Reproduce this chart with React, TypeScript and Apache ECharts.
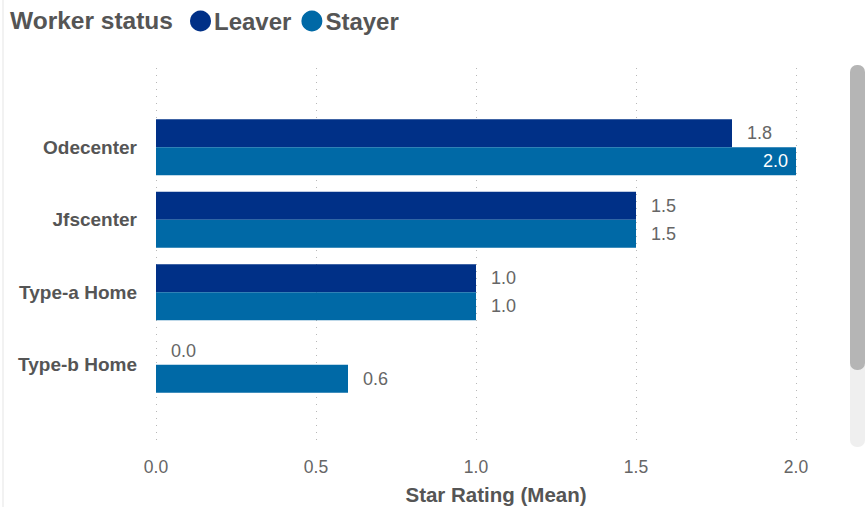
import React, { useEffect, useRef } from "react";
import * as echarts from "echarts";

const categories = ["Odecenter", "Jfscenter", "Type-a Home", "Type-b Home"];
const leaver = [1.8, 1.5, 1.0, 0.0];
const stayer = [2.0, 1.5, 1.0, 0.6];
const xTicks = [0, 0.5, 1.0, 1.5, 2.0];

const LEAVER = "#003087";
const STAYER = "#0069a6";
const FONT = "'Liberation Sans', Arial, sans-serif";

export default function App() {
  const ref = useRef<HTMLDivElement>(null);
  useEffect(() => {
    const chart = echarts.init(ref.current!, null, { renderer: "svg" });
    const xMax = xTicks[xTicks.length - 1];
    const labelBase = {
      show: true,
      position: "right" as const,
      distance: 15,
      color: "#666",
      fontSize: 18,
      fontFamily: FONT,
      formatter: (p: any) => Number(p.value).toFixed(1),
    };
    const stayerData = stayer.map((v) =>
      v >= xMax
        ? { value: v, label: { position: "insideRight" as const, color: "#fff", distance: 8 } }
        : v
    );
    chart.setOption({
      animation: false,
      textStyle: { fontFamily: FONT },
      legend: {
        left: 190,
        top: 9,
        itemWidth: 21,
        itemHeight: 21,
        itemGap: 10,
        padding: 0,
        icon: "circle",
        textStyle: { fontSize: 24, fontWeight: "bold", color: "#555", fontFamily: FONT, padding: [0, 0, 0, -2] },
        data: ["Leaver", "Stayer"],
      },
      graphic: [
        { type: "text", left: 10, top: 8, style: { text: "Worker status", fontSize: 24.5, fontWeight: "bold", fill: "#555", fontFamily: FONT } },
        { type: "rect", shape: { x: 2, y: 0, width: 2, height: 507 }, style: { fill: "#f2f2f2" } },
        { type: "rect", shape: { x: 850, y: 65, width: 15, height: 382, r: 7 }, style: { fill: "#efefef" } },
        { type: "rect", shape: { x: 850, y: 65, width: 15, height: 305, r: 7 }, style: { fill: "#b5b5b5" } },
        { type: "text", x: 496, y: 494, style: { text: "Star Rating (Mean)", fontSize: 20.5, fontWeight: "bold", fill: "#555", fontFamily: FONT, align: "center", verticalAlign: "middle" } },
      ],
      grid: [
        { left: 156, right: 69, top: 111, height: 290, containLabel: false },
        { left: 156, right: 69, top: 68, height: 372, containLabel: false },
      ],
      xAxis: [
        {
          gridIndex: 0, type: "value", min: 0, max: xMax, interval: 0.5,
          axisLabel: { show: false }, splitLine: { show: false }, axisLine: { show: false }, axisTick: { show: false },
        },
        {
          gridIndex: 1, type: "value", min: 0, max: xMax, interval: 0.5,
          axisLabel: { color: "#666", fontSize: 17.5, margin: 18, formatter: (v: number) => v.toFixed(1), fontFamily: FONT },
          splitLine: { show: true, lineStyle: { type: [1, 6], color: "#b8b8b8", width: 1 } },
          axisLine: { show: false }, axisTick: { show: false },
        },
      ],
      yAxis: [
        {
          gridIndex: 0, type: "category", data: categories, inverse: true,
          axisLine: { show: false }, axisTick: { show: false },
          axisLabel: { color: "#555", fontSize: 19, fontWeight: "bold", margin: 19, fontFamily: FONT },
        },
        { gridIndex: 1, type: "category", data: [""], show: false },
      ],
      series: [
        {
          name: "Leaver", type: "bar", data: leaver, xAxisIndex: 0, yAxisIndex: 0,
          barWidth: 28, barGap: "0%", itemStyle: { color: LEAVER }, label: labelBase,
        },
        {
          name: "Stayer", type: "bar", data: stayerData, xAxisIndex: 0, yAxisIndex: 0,
          barWidth: 28, barGap: "0%", itemStyle: { color: STAYER }, label: labelBase,
        },
      ],
    });
    return () => chart.dispose();
  }, []);
  return <div ref={ref} style={{ width: 865, height: 507, position: "absolute", left: 0, top: 0 }} />;
}
